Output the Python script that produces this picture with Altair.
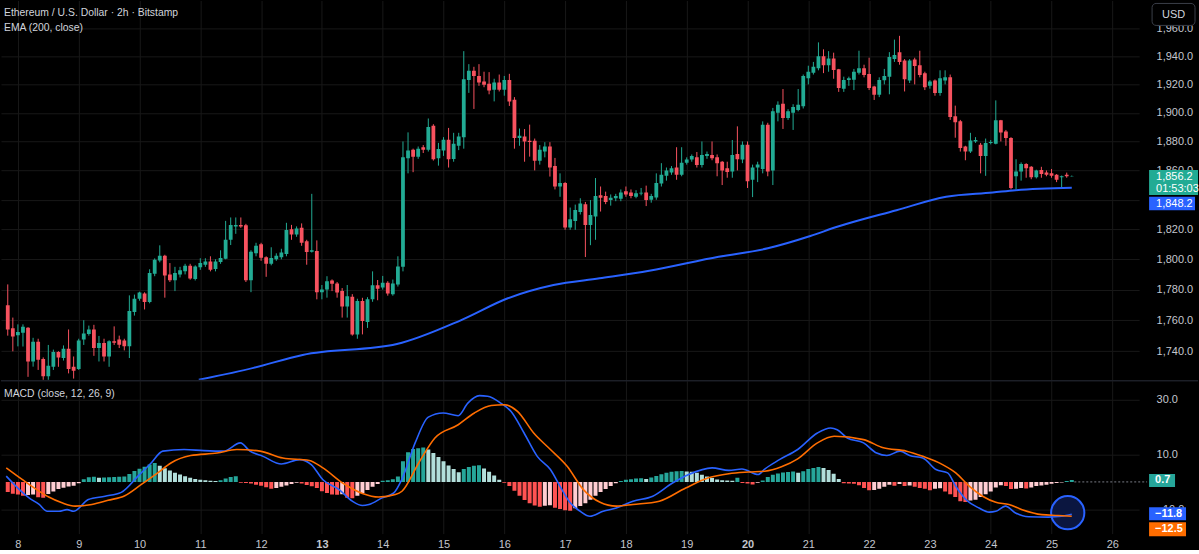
import altair as alt
import pandas as pd

# ETH/USD 2h candles (Bitstamp); bar 0 opens on the 7th at 20:00
opens = [
    1769.7, 1754.7, 1750.2, 1751.9, 1755.1, 1733.4, 1746.0, 1735.0, 1724.0, 1730.0,
    1739.5, 1735.6, 1741.6, 1730.0, 1728.6, 1747.5, 1751.0, 1754.0, 1742.0, 1745.3,
    1736.6, 1746.4, 1747.5, 1746.9, 1743.1, 1765.3, 1774.0, 1777.5, 1771.8, 1790.5,
    1799.2, 1802.3, 1789.9, 1786.2, 1790.0, 1792.0, 1795.8, 1787.0, 1794.7, 1796.4,
    1798.6, 1793.5, 1798.2, 1800.4, 1813.0, 1822.0, 1823.0, 1822.8, 1786.2, 1804.0,
    1810.0, 1801.4, 1797.0, 1800.0, 1801.4, 1803.6, 1820.0, 1816.6, 1821.0, 1812.0,
    1805.0, 1805.5, 1778.3, 1780.0, 1786.0, 1784.0, 1779.0, 1769.0, 1775.3, 1750.8,
    1772.5, 1758.8, 1773.6, 1782.8, 1781.4, 1784.5, 1777.0, 1783.4, 1795.0, 1868.4,
    1874.2, 1869.5, 1876.0, 1874.2, 1891.0, 1868.4, 1873.7, 1881.2, 1867.9, 1877.0,
    1883.0, 1923.2, 1929.7, 1926.0, 1922.0, 1920.4, 1916.2, 1921.3, 1916.2, 1923.2,
    1909.2, 1882.4, 1883.5, 1880.5, 1880.5, 1866.7, 1873.0, 1876.5, 1863.0, 1849.0,
    1851.4, 1821.3, 1825.7, 1831.7, 1837.0, 1823.0, 1828.6, 1843.0, 1842.5, 1839.8,
    1841.0, 1840.7, 1845.8, 1845.0, 1842.0, 1844.3, 1845.0, 1840.0, 1841.6, 1851.0,
    1856.3, 1858.5, 1862.0, 1857.0, 1865.3, 1867.5, 1869.0, 1863.8, 1870.0, 1870.7,
    1869.0, 1866.0, 1861.5, 1859.2, 1871.4, 1867.6, 1877.7, 1853.6, 1862.0, 1861.0,
    1891.7, 1860.0, 1900.0, 1906.4, 1896.4, 1900.0, 1902.0, 1904.5, 1924.4, 1928.3,
    1931.4, 1940.0, 1933.7, 1938.4, 1930.7, 1917.0, 1923.2, 1923.3, 1928.3, 1931.4,
    1927.4, 1918.5, 1912.7, 1923.0, 1925.5, 1938.0, 1943.0, 1937.0, 1922.7, 1937.7,
    1933.7, 1928.0, 1919.0, 1922.7, 1914.0, 1922.7, 1925.0, 1897.5, 1894.0, 1876.5,
    1873.0, 1880.0, 1877.7, 1870.0, 1879.0, 1878.4, 1894.7, 1887.0, 1882.4, 1856.0,
    1859.2, 1864.4, 1862.6, 1855.4, 1860.3, 1858.5, 1858.0, 1857.0, 1855.4, 1857.0,
    1856.0,
]
highs = [
    1783.4, 1761.7, 1757.3, 1757.3, 1755.5, 1748.6, 1748.0, 1736.0, 1744.0, 1741.0,
    1740.0, 1743.7, 1754.0, 1736.6, 1748.0, 1760.0, 1756.5, 1757.0, 1749.8, 1748.0,
    1747.0, 1756.0, 1750.0, 1748.0, 1776.2, 1776.7, 1778.6, 1778.2, 1793.4, 1800.6,
    1809.3, 1803.0, 1797.5, 1795.0, 1795.0, 1797.0, 1797.0, 1796.0, 1800.7, 1800.7,
    1802.0, 1800.0, 1806.0, 1825.7, 1828.0, 1828.0, 1828.0, 1823.7, 1806.0, 1811.0,
    1811.0, 1802.0, 1808.0, 1804.0, 1807.0, 1824.4, 1823.0, 1822.0, 1824.0, 1813.0,
    1844.0, 1812.6, 1783.0, 1788.8, 1786.7, 1785.0, 1781.0, 1783.0, 1777.0, 1774.0,
    1774.6, 1775.0, 1792.0, 1786.3, 1789.0, 1785.5, 1786.6, 1802.0, 1880.0, 1886.3,
    1875.0, 1876.5, 1877.5, 1896.0, 1892.0, 1879.0, 1883.0, 1889.4, 1886.0, 1886.0,
    1943.7, 1934.4, 1932.5, 1934.4, 1929.0, 1928.7, 1924.0, 1927.0, 1926.0, 1927.5,
    1911.0, 1889.0, 1888.6, 1891.7, 1882.0, 1877.5, 1879.5, 1879.5, 1868.6, 1858.0,
    1852.0, 1834.7, 1836.7, 1841.0, 1838.5, 1839.8, 1854.8, 1849.0, 1845.5, 1843.6,
    1844.0, 1847.0, 1849.0, 1847.0, 1846.5, 1848.0, 1849.6, 1844.0, 1858.0, 1865.0,
    1862.0, 1863.0, 1876.0, 1876.0, 1869.0, 1871.0, 1872.7, 1880.0, 1873.0, 1880.0,
    1871.0, 1866.5, 1866.0, 1881.0, 1890.5, 1880.0, 1880.0, 1864.0, 1866.0, 1894.0,
    1893.0, 1903.4, 1908.0, 1916.7, 1902.5, 1906.0, 1916.7, 1927.0, 1933.3, 1936.0,
    1950.0, 1945.0, 1943.7, 1942.6, 1931.0, 1925.5, 1925.5, 1931.0, 1944.0, 1934.0,
    1939.0, 1919.0, 1925.0, 1931.0, 1943.0, 1952.0, 1954.7, 1938.0, 1938.0, 1939.0,
    1944.0, 1929.0, 1923.0, 1923.5, 1930.0, 1930.0, 1927.0, 1905.0, 1895.0, 1877.0,
    1886.0, 1883.0, 1879.0, 1882.0, 1881.0, 1908.7, 1895.0, 1888.0, 1883.0, 1867.7,
    1865.5, 1865.0, 1863.0, 1860.5, 1862.5, 1860.0, 1861.0, 1857.5, 1856.5, 1858.5,
    1856.5,
]
lows = [
    1750.0, 1739.9, 1743.1, 1743.0, 1723.6, 1730.1, 1728.0, 1719.0, 1721.0, 1728.0,
    1730.0, 1734.0, 1725.8, 1722.5, 1728.0, 1744.0, 1750.0, 1737.0, 1733.4, 1733.4,
    1730.0, 1744.0, 1742.0, 1740.5, 1735.6, 1763.0, 1772.7, 1767.0, 1771.0, 1788.8,
    1798.0, 1774.7, 1785.0, 1779.0, 1788.0, 1790.0, 1786.5, 1786.0, 1793.0, 1795.0,
    1792.0, 1792.0, 1797.0, 1800.0, 1809.5, 1817.0, 1821.0, 1785.0, 1778.3, 1802.0,
    1799.0, 1788.4, 1796.0, 1799.0, 1800.0, 1802.0, 1813.0, 1815.0, 1809.0, 1796.4,
    1804.5, 1773.6, 1773.6, 1774.7, 1779.0, 1774.7, 1761.7, 1761.7, 1750.0, 1748.0,
    1750.8, 1755.0, 1772.0, 1773.0, 1780.0, 1776.0, 1776.0, 1782.0, 1792.0, 1858.0,
    1858.8, 1868.0, 1872.0, 1873.0, 1866.8, 1863.3, 1870.0, 1862.0, 1866.0, 1874.0,
    1875.0, 1914.0, 1902.7, 1919.0, 1918.0, 1913.0, 1908.0, 1915.0, 1912.0, 1904.8,
    1875.0, 1877.0, 1866.0, 1869.5, 1860.0, 1864.0, 1869.0, 1855.8, 1847.0, 1842.0,
    1819.7, 1819.7, 1819.7, 1830.0, 1801.5, 1809.4, 1813.0, 1832.0, 1837.0, 1836.0,
    1839.0, 1839.0, 1842.0, 1841.0, 1841.0, 1843.0, 1835.7, 1838.0, 1840.0, 1849.0,
    1853.0, 1857.0, 1853.6, 1856.0, 1864.0, 1866.0, 1862.0, 1862.0, 1868.0, 1867.0,
    1856.0, 1850.0, 1855.0, 1855.0, 1860.0, 1865.0, 1848.0, 1841.8, 1852.0, 1858.0,
    1856.0, 1850.0, 1894.0, 1888.7, 1895.0, 1888.0, 1901.0, 1903.0, 1920.0, 1927.0,
    1930.0, 1928.0, 1929.0, 1924.0, 1914.7, 1914.7, 1919.0, 1916.0, 1927.0, 1925.0,
    1916.0, 1909.0, 1911.0, 1920.0, 1913.0, 1936.0, 1934.0, 1915.0, 1921.0, 1920.0,
    1925.0, 1916.0, 1917.0, 1912.0, 1912.0, 1920.0, 1895.0, 1882.6, 1873.0, 1867.0,
    1872.0, 1879.0, 1858.0, 1856.3, 1878.0, 1878.0, 1880.0, 1877.0, 1847.0, 1847.0,
    1853.0, 1855.0, 1854.0, 1854.5, 1855.0, 1856.0, 1855.0, 1852.0, 1848.5, 1855.0,
    1855.8,
]
closes = [
    1754.0, 1749.5, 1752.3, 1755.8, 1733.4, 1746.0, 1734.5, 1724.0, 1730.6, 1739.5,
    1736.0, 1741.6, 1728.6, 1727.5, 1746.9, 1751.4, 1754.0, 1742.0, 1745.3, 1736.6,
    1746.4, 1745.4, 1744.2, 1743.1, 1766.0, 1774.0, 1778.0, 1771.8, 1791.0, 1799.7,
    1802.3, 1789.2, 1786.2, 1791.0, 1792.7, 1795.8, 1787.3, 1795.3, 1797.5, 1798.6,
    1793.0, 1798.6, 1800.8, 1813.0, 1823.0, 1823.0, 1822.0, 1786.2, 1805.0, 1809.0,
    1801.0, 1797.0, 1800.8, 1802.3, 1804.6, 1819.5, 1816.6, 1820.6, 1811.0, 1804.8,
    1806.0, 1778.3, 1780.0, 1785.5, 1783.8, 1778.0, 1769.0, 1775.7, 1750.8, 1772.5,
    1759.4, 1773.6, 1782.8, 1780.6, 1784.5, 1777.5, 1784.0, 1795.3, 1869.0, 1873.7,
    1869.5, 1874.9, 1874.2, 1890.0, 1867.7, 1874.7, 1881.2, 1867.7, 1878.4, 1883.5,
    1923.7, 1929.7, 1926.0, 1921.3, 1919.7, 1915.7, 1921.3, 1916.2, 1923.2, 1908.0,
    1882.4, 1884.0, 1880.0, 1879.6, 1866.7, 1874.2, 1876.5, 1862.0, 1849.0, 1851.4,
    1821.3, 1826.8, 1833.0, 1837.5, 1823.0, 1829.6, 1842.5, 1841.3, 1838.5, 1841.3,
    1842.5, 1845.0, 1843.6, 1842.6, 1844.4, 1844.8, 1839.8, 1842.5, 1851.4, 1857.0,
    1860.0, 1861.5, 1857.0, 1865.3, 1867.6, 1870.0, 1863.8, 1870.7, 1871.4, 1868.4,
    1865.0, 1860.0, 1859.0, 1870.7, 1867.7, 1877.7, 1852.6, 1862.0, 1864.0, 1891.7,
    1859.2, 1901.0, 1905.7, 1896.4, 1901.0, 1904.0, 1905.7, 1926.0, 1929.0, 1932.5,
    1940.0, 1933.7, 1938.4, 1930.2, 1917.4, 1923.2, 1924.4, 1929.0, 1931.4, 1926.7,
    1917.4, 1912.7, 1923.2, 1926.0, 1939.5, 1941.0, 1936.0, 1923.7, 1937.0, 1933.0,
    1926.7, 1918.0, 1922.0, 1914.0, 1924.4, 1925.0, 1897.0, 1893.3, 1875.4, 1873.0,
    1880.7, 1881.0, 1870.0, 1879.0, 1879.6, 1894.7, 1886.3, 1882.4, 1848.0, 1859.2,
    1864.4, 1861.5, 1855.4, 1860.0, 1857.6, 1857.0, 1856.3, 1853.6, 1856.0, 1856.0,
    1856.2,
]

# MACD (12, 26, 9) histogram, one value per candle
macd_hist = [
    -3.7, -4.3, -4.6, -5.0, -4.8, -4.6, -5.6, -5.8, -4.4, -3.5,
    -2.6, -2.1, -1.7, -1.4, -0.5, 1.0, 1.7, 1.9, 1.5, 1.6,
    1.7, 1.8, 1.9, 2.0, 2.9, 4.0, 4.8, 5.5, 6.3, 6.9,
    5.9, 5.0, 4.2, 3.3, 2.7, 2.1, 1.5, 1.1, 0.8, 0.6,
    0.4, 0.3, 0.6, 1.2, 1.8, 2.1, -0.3, -0.4, -0.6, -1.0,
    -1.4, -1.9, -2.5, -2.2, -1.8, -1.3, -0.8, -0.3, -0.6, -1.1,
    -1.6, -2.2, -3.4, -4.0, -4.6, -4.7, -4.5, -5.8, -5.9, -5.0,
    -4.0, -2.9, -1.8, -0.8, 0.4, 0.6, 1.0, 2.0, 7.5, 10.8,
    12.0, 12.3, 12.5, 11.8, 10.5, 9.1, 7.5, 6.0, 4.7, 3.5,
    4.7, 5.4, 5.9, 6.1, 4.9, 3.7, 2.3, 0.8, -0.3, -1.5,
    -3.2, -5.0, -6.6, -7.8, -8.6, -9.0, -8.7, -8.5, -9.4, -9.9,
    -10.3, -10.5, -9.6, -8.8, -7.8, -6.5, -5.0, -3.7, -2.6, -1.5,
    -0.5, 0.3, 0.8, 1.0, 1.2, 1.3, 1.1, 1.6, 2.2, 2.8,
    3.3, 3.7, 3.9, 4.0, 3.8, 3.7, 3.3, 2.6, 2.0, 1.4,
    0.9, 0.6, 0.5, 0.4, 1.5, -0.4, -0.6, -0.9, -0.3, 0.5,
    1.8, 2.6, 3.1, 3.4, 3.6, 3.8, 3.3, 3.9, 4.7, 5.1,
    5.4, 5.1, 4.3, 3.0, 1.1, -0.5, -0.6, -0.7, -1.2, -2.2,
    -3.0, -2.9, -2.5, -1.8, -1.0, -1.4, -0.8, -1.5, -1.3, -1.8,
    -2.2, -2.5, -3.0, -2.5, -2.3, -3.5, -4.5, -5.5, -7.0, -7.3,
    -6.8, -6.5, -5.5, -4.5, -3.5, -2.0, -1.2, -1.5, -2.6, -2.5,
    -2.2, -2.4, -2.0, -1.5, -1.3, -1.0, -0.7, -0.4, -0.2, 0.3,
    0.7,
]

# EMA(200) readings: bar position -> value
ema_bar = [37.7, 48.5, 58.2, 76.8, 89.5, 98.7, 107.7, 116.8, 126.6, 140.3,
           150.0, 158.4, 163.7, 175.4, 185.2, 194.4, 198.9, 210.0]
ema_value = [1721.7, 1729.3, 1737.6, 1744.6, 1760.1, 1774.3, 1783.0, 1787.4, 1792.4, 1801.7,
             1807.3, 1815.5, 1821.7, 1832.9, 1842.0, 1844.9, 1846.5, 1848.2]

# MACD line readings
macd_bar = [-0.3, 2.3, 4.2, 6.2, 7.8, 10.1, 11.7, 13.0, 15.9, 19.2, 22.4, 25.7, 28.3, 30.6,
            34.8, 38.7, 42.6, 45.9, 47.8, 50.4, 54.0, 57.6, 59.9, 62.2, 65.4, 68.0, 70.0,
            71.3, 73.9, 76.2, 77.8, 80.4, 83.0, 85.9, 88.9, 90.8, 93.1, 94.7, 97.3, 99.3,
            101.9, 104.5, 107.1, 109.0, 111.0, 113.0, 114.9, 117.5, 120.1, 123.4, 127.3,
            131.2, 134.4, 139.0, 142.3, 144.9, 148.1, 149.4, 152.3, 155.9, 159.8, 162.4,
            163.7, 165.7, 168.9, 171.5, 173.5, 176.1, 178.0, 180.6, 183.2, 185.5, 187.1,
            189.1, 191.7, 193.7, 195.0, 196.9, 198.9, 201.5, 205.4, 208.0, 210.0]
macd_value = [2.1, -2.8, -5.8, -8.2, -10.7, -10.7, -10.1, -10.7, -6.4, -5.2, -3.8, 2.1, 6.9,
              11.2, 11.8, 11.4, 11.2, 14.2, 11.2, 9.3, 6.5, 8.1, 6.3, 0.8, -2.8, -7.0, -8.6,
              -8.2, -5.8, -4.0, 1.0, 14.2, 23.6, 25.1, 24.1, 28.7, 31.4, 31.2, 28.7, 25.7,
              17.8, 9.3, 4.5, -1.6, -7.6, -10.7, -12.5, -10.7, -9.5, -7.0, -5.2, -0.4, 2.7,
              5.1, 4.2, 4.7, 2.7, 4.7, 8.1, 11.8, 17.8, 19.6, 19.0, 16.0, 14.2, 10.5, 9.6,
              11.2, 9.6, 8.7, 4.5, 3.3, -1.6, -6.4, -9.5, -11.0, -10.7, -8.8, -11.3, -12.7,
              -12.8, -12.5, -11.8]

# Signal line readings
signal_bar = [-0.3, 2.9, 6.2, 8.1, 10.7, 13.3, 16.6, 19.8, 23.1, 26.3, 29.6, 32.2, 36.1, 41.3,
              45.2, 49.8, 54.3, 59.5, 62.2, 66.1, 70.0, 73.2, 76.5, 77.8, 81.1, 84.3, 88.9,
              92.1, 95.4, 98.0, 100.6, 103.8, 107.1, 110.4, 113.6, 116.9, 120.1, 123.4,
              128.6, 133.8, 138.3, 142.3, 146.2, 149.4, 152.7, 155.9, 159.8, 163.1, 168.9,
              172.8, 177.4, 180.6, 184.5, 187.1, 189.8, 192.4, 195.0, 197.6, 200.2, 204.1,
              207.3, 210.0]
signal_value = [5.1, 0.8, -3.4, -5.5, -7.6, -8.8, -8.2, -6.7, -5.0, -1.0, 3.3, 6.9, 9.6, 10.5,
                11.8, 11.2, 8.7, 7.8, 5.1, -0.4, -4.2, -5.5, -4.6, -3.4, 6.9, 16.0, 20.8,
                25.1, 27.8, 28.1, 25.7, 17.8, 11.8, 5.7, -2.8, -7.4, -8.8, -8.2, -7.0, -2.2,
                1.5, 3.0, 3.6, 3.9, 5.5, 8.4, 14.2, 16.6, 15.4, 12.4, 11.2, 9.3, 6.3, 3.3,
                -1.6, -5.2, -7.4, -8.2, -10.1, -11.9, -12.2, -12.5]

# Axis ticks and labels
day_labels = [8, 9, 10, 11, 12, 13, 14, 15, 16, 17, 18, 19, 20, 21, 22, 23, 24, 25, 26]
bold_days = [13, 20]
first_midnight_bar = 2
bars_per_day = 12
price_ticks = [1740, 1760, 1780, 1800, 1820, 1840, 1860, 1880, 1900, 1920, 1940, 1960]
macd_ticks = [-10, 0, 10, 20, 30]
countdown = "01:53:03"

# Highlight circle drawn on the MACD pane
circle_bar = 209.2
circle_value = -11.2

# ---- styling ----
BG = "#000000"
UP = "#22ab94"
DOWN = "#f7525f"
BLUE = "#2962ff"
ORANGE = "#ff6d00"
GRID = "#181818"
TEXT = "#d1d4dc"
AXIS_TEXT = "#c3c6ce"
FONT = "Liberation Sans"
PLOT_W = 1140

n = len(closes)
candles = pd.DataFrame({"bar": list(range(n)), "open": opens, "high": highs,
                        "low": lows, "close": closes})
ema_df = pd.DataFrame({"bar": ema_bar, "ema": ema_value})
macd_df = pd.DataFrame({"bar": macd_bar, "macd": macd_value})
signal_df = pd.DataFrame({"bar": signal_bar, "signal": signal_value})


def hist_trend(h, prev):
    if h >= 0:
        return "grow_above" if h > prev else "fall_above"
    return "grow_below" if h > prev else "fall_below"


prev_hist = [0.0] + macd_hist[:-1]
hist_df = pd.DataFrame({
    "bar": list(range(n)),
    "hist": macd_hist,
    "trend": [hist_trend(h, p) for h, p in zip(macd_hist, prev_hist)],
})

day_ticks = [first_midnight_bar + bars_per_day * i for i in range(len(day_labels))]
bold_ticks = [first_midnight_bar + bars_per_day * (d - day_labels[0]) for d in bold_days]
bold_test = " || ".join(f"datum.value == {t}" for t in bold_ticks)

x_scale = alt.Scale(domain=[-0.35, 222.3], nice=False, zero=False)
x_axis_top = alt.Axis(values=day_ticks, labels=False, ticks=False, domain=False,
                      grid=True, gridColor=GRID, title=None)
x_axis_bottom = alt.Axis(
    values=day_ticks, labels=True, ticks=False, tickSize=0, domain=False, grid=True,
    gridColor=GRID, title=None, labelPadding=5, labelFontSize=11, labelColor=AXIS_TEXT,
    labelFont=FONT,
    labelExpr=f"'' + ((datum.value - {first_midnight_bar}) / {bars_per_day} + {day_labels[0]})",
    labelFontWeight={"condition": {"test": bold_test, "value": "bold"}, "value": "normal"},
)

# the last price / EMA tags sit over the 1,840 label, so it is left blank
price_scale = alt.Scale(type="log", domain=[1721.7, 1980.4], nice=False, zero=False)
price_axis = alt.Axis(orient="right", values=price_ticks, title=None,
                      labelExpr="datum.value == 1840 ? '' : format(datum.value, ',.1f')",
                      ticks=False, tickSize=0, domain=False, grid=True, gridColor=GRID,
                      labelPadding=17, labelFontSize=11, labelColor=AXIS_TEXT,
                      labelFont=FONT)

candle_color = alt.condition("datum.close >= datum.open", alt.value(UP), alt.value(DOWN))

X = alt.X("bar:Q", scale=x_scale, axis=x_axis_top)

wicks = alt.Chart(candles).mark_rule(strokeWidth=1, clip=True).encode(
    x=X,
    y=alt.Y("low:Q", scale=price_scale, axis=price_axis),
    y2=alt.Y2("high"),
    color=candle_color,
)
bodies = alt.Chart(candles).mark_bar(size=3.8, clip=True).encode(
    x="bar:Q", y="open:Q", y2=alt.Y2("close"), color=candle_color,
)
ema_line = alt.Chart(ema_df).mark_line(color=BLUE, strokeWidth=2, clip=True,
                                        interpolate="monotone").encode(
    x="bar:Q", y="ema:Q",
)

last_close = closes[-1]
last_ema = ema_value[-1]
close_tag = pd.DataFrame({"value": [last_close], "label": [f"{last_close:,.1f}"],
                          "timer": [countdown]})
ema_tag = pd.DataFrame({"value": [last_ema], "label": [f"{last_ema:,.1f}"]})

close_box = alt.Chart(close_tag).mark_rect(color=UP, yOffset=-6, y2Offset=19).encode(
    x=alt.value(1150), x2=alt.value(1199), y="value:Q", y2=alt.Y2("value"))
close_text = alt.Chart(close_tag).mark_text(align="left", baseline="middle", dy=1,
                                             fontSize=11, font=FONT, color="white").encode(
    x=alt.value(1157), y="value:Q", text="label:N")
timer_text = alt.Chart(close_tag).mark_text(align="left", baseline="middle", dy=13,
                                             fontSize=11, font=FONT, color="white").encode(
    x=alt.value(1157), y="value:Q", text="timer:N")
ema_box = alt.Chart(ema_tag).mark_rect(color=BLUE, yOffset=9, y2Offset=22.5).encode(
    x=alt.value(1150), x2=alt.value(1196), y="value:Q", y2=alt.Y2("value"))
ema_text = alt.Chart(ema_tag).mark_text(align="left", baseline="middle", dy=16,
                                         fontSize=11, font=FONT, color="white").encode(
    x=alt.value(1157), y="value:Q", text="label:N")

one_row = pd.DataFrame({"label": ["USD"]})
usd_box = alt.Chart(one_row).mark_rect(fill=BG, stroke="#3a3e48", strokeWidth=1,
                                       cornerRadius=4).encode(
    x=alt.value(1153), x2=alt.value(1196), y=alt.value(3), y2=alt.value(25))
usd_text = alt.Chart(one_row).mark_text(align="center", baseline="middle", fontSize=11,
                                        font=FONT, color=TEXT).encode(
    x=alt.value(1174.5), y=alt.value(14.5), text="label:N")

title_df = pd.DataFrame({"t": ["Ethereum / U.S. Dollar · 2h · Bitstamp"]})
ema_title_df = pd.DataFrame({"t": ["EMA (200, close)"]})
title_text = alt.Chart(title_df).mark_text(align="left", baseline="middle", fontSize=10.4,
                                           font=FONT, color=TEXT).encode(
    x=alt.value(3), y=alt.value(13), text="t:N")
ema_title = alt.Chart(ema_title_df).mark_text(align="left", baseline="middle",
                                              fontSize=10.4, font=FONT, color=TEXT).encode(
    x=alt.value(3), y=alt.value(28), text="t:N")

price_panel = alt.layer(
    wicks, bodies, ema_line, close_box, close_text, timer_text, ema_box, ema_text,
    usd_box, usd_text, title_text, ema_title,
).properties(width=PLOT_W, height=380)

# ---- MACD pane ----
# the histogram tag covers the 0.0 label, so it is left blank
macd_scale = alt.Scale(domain=[-18.8, 36.8], nice=False, zero=False)
macd_axis = alt.Axis(orient="right", values=macd_ticks, title=None,
                     labelExpr="datum.value == 0 ? '' : format(datum.value, '.1f')",
                     ticks=False, tickSize=0, domain=False, grid=True, gridColor=GRID,
                     labelPadding=17, labelFontSize=11, labelColor=AXIS_TEXT,
                     labelFont=FONT)

trend_names = ["grow_above", "fall_above", "grow_below", "fall_below"]
trend_colors = ["#26a69a", "#b2dfdb", "#ffcdd2", "#ff5252"]

hist_bars = alt.Chart(hist_df).mark_bar(size=4, clip=True).encode(
    x=alt.X("bar:Q", scale=x_scale, axis=x_axis_bottom),
    y=alt.Y("hist:Q", scale=macd_scale, axis=macd_axis),
    y2=alt.datum(0),
    color=alt.Color("trend:N", scale=alt.Scale(domain=trend_names, range=trend_colors),
                    legend=None),
)

circle_df = pd.DataFrame({"bar": [circle_bar], "value": [circle_value]})
circle = alt.Chart(circle_df).mark_point(shape="circle", size=1110, fill="#0b1640",
                                         fillOpacity=1, stroke=BLUE, strokeWidth=2,
                                         opacity=1).encode(x="bar:Q", y="value:Q")

macd_line = alt.Chart(macd_df).mark_line(color=BLUE, strokeWidth=1.6, clip=True,
                                          interpolate="monotone").encode(
    x="bar:Q", y="macd:Q")
signal_line = alt.Chart(signal_df).mark_line(color=ORANGE, strokeWidth=1.6, clip=True,
                                              interpolate="monotone").encode(
    x="bar:Q", y="signal:Q")

last_hist = macd_hist[-1]
last_macd = macd_value[-1]
last_signal = signal_value[-1]

zero_df = pd.DataFrame({"bar": [n - 0.5], "value": [0.0]})
zero_dash = alt.Chart(zero_df).mark_rule(color="#787b86", strokeDash=[2, 2],
                                         strokeWidth=1).encode(
    x="bar:Q", x2=alt.value(1148), y="value:Q")


def tag(value, label, color, x2, y_off, y2_off, dy):
    df = pd.DataFrame({"value": [value], "label": [label]})
    box = alt.Chart(df).mark_rect(color=color, yOffset=y_off, y2Offset=y2_off).encode(
        x=alt.value(1150), x2=alt.value(x2), y="value:Q", y2=alt.Y2("value"))
    txt = alt.Chart(df).mark_text(align="left", baseline="middle", dy=dy, fontSize=11,
                                  font=FONT, color="white", fontWeight="bold").encode(
        x=alt.value(1156), y="value:Q", text="label:N")
    return box + txt


def fmt(v):
    return f"{v:.1f}".replace("-", "\u2212")


hist_tag = tag(last_hist, fmt(last_hist), "#26a69a", 1176, -6, 7, 0.5)
macd_tag = tag(last_macd, fmt(last_macd), BLUE, 1187, -7, 6, -0.5)
signal_tag = tag(last_signal, fmt(last_signal), ORANGE, 1187, 6, 20, 13)

macd_title_df = pd.DataFrame({"t": ["MACD (close, 12, 26, 9)"]})
macd_title = alt.Chart(macd_title_df).mark_text(align="left", baseline="middle",
                                                fontSize=10.4, font=FONT,
                                                color=TEXT).encode(
    x=alt.value(3), y=alt.value(13), text="t:N")

sep_df = pd.DataFrame({"s": [1]})
separator = alt.Chart(sep_df).mark_rule(color="#2a2e39", strokeWidth=1).encode(
    x=alt.value(0), x2=alt.value(1199), y=alt.value(0))

macd_panel = alt.layer(
    hist_bars, zero_dash, circle, macd_line, signal_line, hist_tag, macd_tag, signal_tag,
    macd_title, separator,
).properties(width=PLOT_W, height=153)

chart = (
    alt.vconcat(price_panel, macd_panel, spacing=0)
    .properties(background=BG, padding=0)
    .configure(font=FONT)
    .configure_view(stroke=None)
)

chart.save("out.html", embed_options={"renderer": "svg", "actions": False})
